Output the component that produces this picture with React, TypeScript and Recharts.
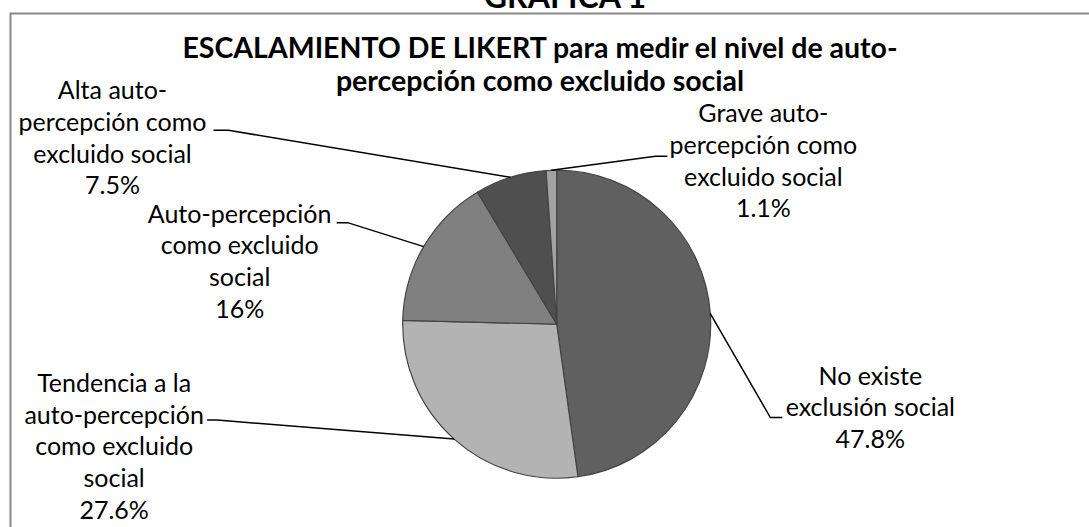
import React from "react";
import { PieChart, Pie, Cell } from "recharts";

const categories = [
  "No existe exclusión social",
  "Tendencia a la auto-percepción como excluido social",
  "Auto-percepción como excluido social",
  "Alta auto-percepción como excluido social",
  "Grave auto-percepción como excluido social",
];
const values = [47.8, 27.6, 16, 7.5, 1.1];
const valueLabels = ["47.8%", "27.6%", "16%", "7.5%", "1.1%"];
const labelLines = [
  ["No existe", "exclusión social"],
  ["Tendencia a la", "auto-percepción", "como excluido", "social"],
  ["Auto-percepción", "como excluido", "social"],
  ["Alta auto-", "percepción como", "excluido social"],
  ["Grave auto-", "percepción como", "excluido social"],
];
const chartTitle = "GRAFICA 1";
const titleLines = [
  "ESCALAMIENTO DE LIKERT para medir el nivel de auto-",
  "percepción como excluido social",
];

const sliceColors = ["#606060", "#b3b3b3", "#808080", "#4f4f4f", "#a2a2a2"];

// label layout: elbow offset from slice edge midpoint, horizontal tail, text centre and first baseline
const labelLayout = [
  { dx: 60, dy: 104, hx: 12, tx: 100, ty: -33 },
  { dx: -237, dy: -19, hx: -10, tx: -103, ty: -28 },
  { dx: -76, dy: -24, hx: -11, tx: -108, ty: 0 },
  { dx: -282, dy: -47, hx: -15, tx: -116, ty: -31 },
  { dx: 104, dy: -14, hx: 12, tx: 108, ty: -34 },
];

const data = categories.map((name, i) => ({ name, value: values[i] }));

const FONT = "Lato, 'Open Sans', sans-serif";
const LABEL_SIZE = 25;
const LINE_H = 31.7;
const RAD = Math.PI / 180;

function renderLabel(props: any) {
  const { cx, cy, midAngle, outerRadius, index } = props;
  const x0 = cx + outerRadius * Math.cos(-midAngle * RAD);
  const y0 = cy + outerRadius * Math.sin(-midAngle * RAD);
  const L = labelLayout[index];
  const ex = x0 + L.dx;
  const ey = y0 + L.dy;
  const lines = [...labelLines[index], valueLabels[index]];
  return (
    <g key={`lbl-${index}`}>
      <polyline
        points={`${x0},${y0} ${ex},${ey} ${ex + L.hx},${ey}`}
        fill="none"
        stroke="#000"
        strokeWidth={1.5}
      />
      {lines.map((t, j) => (
        <text
          key={j}
          x={ex + L.tx}
          y={ey + L.ty + j * LINE_H}
          textAnchor="middle"
          fontFamily={FONT}
          fontSize={LABEL_SIZE}
          fill="#000"
        >
          {t}
        </text>
      ))}
    </g>
  );
}

export default function App() {
  return (
    <div style={{ position: "absolute", left: 0, top: 0, width: 1089, height: 527, background: "#fff" }}>
      <PieChart width={1089} height={527} margin={{ top: 0, right: 0, bottom: 0, left: 0 }}>
        <path d="M10.5 527 V13.5 H1089" fill="none" stroke="#888" strokeWidth={2} />
        <text x={565} y={8} textAnchor="middle" fontFamily={FONT} fontWeight="bold" fontSize={32} fill="#000">
          {chartTitle}
        </text>
        {titleLines.map((t, i) => (
          <text
            key={i}
            x={540}
            y={58 + i * 33}
            textAnchor="middle"
            fontFamily={FONT}
            fontWeight="bold"
            fontSize={28.5}
            fill="#000"
          >
            {t}
          </text>
        ))}
        <Pie
          data={data}
          dataKey="value"
          nameKey="name"
          cx={556.7}
          cy={324.2}
          outerRadius={154}
          startAngle={90}
          endAngle={-270}
          stroke="#444"
          strokeWidth={1.2}
          label={renderLabel}
          labelLine={false}
          isAnimationActive={false}
        >
          {data.map((d, i) => (
            <Cell key={d.name} fill={sliceColors[i]} />
          ))}
        </Pie>
      </PieChart>
    </div>
  );
}
